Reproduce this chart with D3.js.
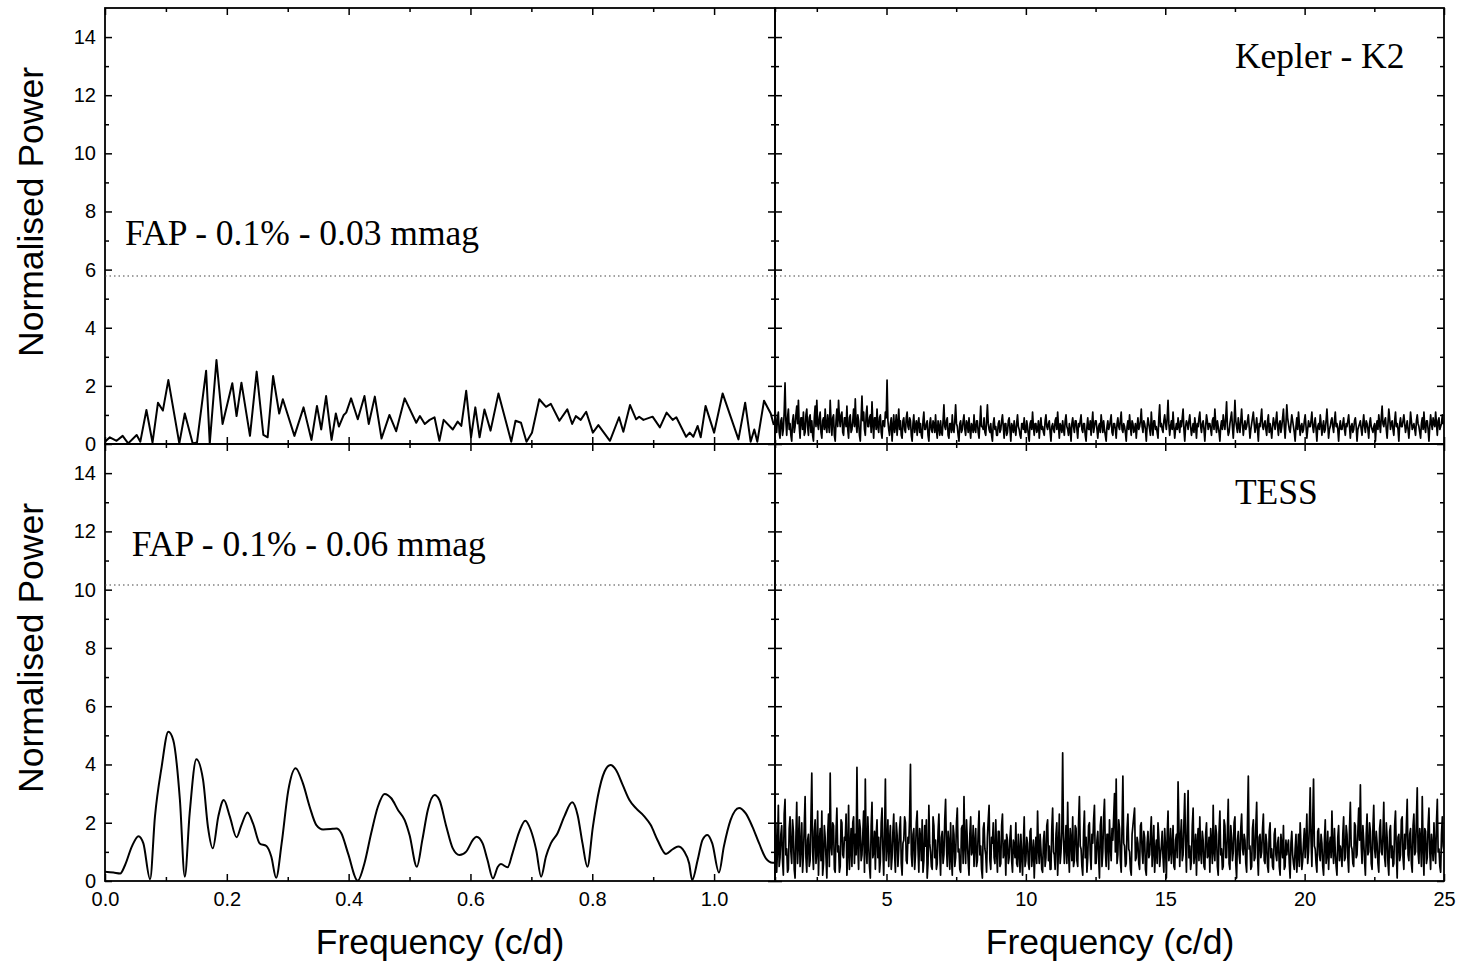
<!DOCTYPE html>
<html><head><meta charset="utf-8">
<script src="https://cdn.jsdelivr.net/npm/d3@7"></script>
<style>html,body{margin:0;padding:0;background:#fff;} svg{display:block;}</style>
</head><body>
<svg id="chart" width="1472" height="961"></svg>
<script>
// ---------- DATA ----------
// Kepler K2, low-frequency periodogram (0 - 1.1 c/d)
const keplerLowFreq = [0.000,0.008,0.019,0.029,0.038,0.052,0.058,0.068,0.078,0.087,0.095,0.104,0.122,0.131,0.144,0.151,0.166,0.172,0.183,0.193,0.209,0.216,0.224,0.238,0.249,0.260,0.267,0.276,0.286,0.292,0.311,0.326,0.339,0.348,0.355,0.363,0.372,0.379,0.384,0.392,0.396,0.404,0.415,0.426,0.433,0.443,0.454,0.467,0.478,0.492,0.511,0.517,0.525,0.533,0.541,0.549,0.556,0.571,0.579,0.585,0.593,0.601,0.608,0.615,0.623,0.633,0.646,0.667,0.674,0.683,0.692,0.701,0.713,0.724,0.732,0.746,0.759,0.767,0.773,0.781,0.790,0.801,0.810,0.829,0.844,0.851,0.862,0.872,0.877,0.884,0.899,0.911,0.922,0.932,0.938,0.954,0.960,0.966,0.973,0.978,0.986,1.000,1.014,1.040,1.051,1.060,1.066,1.071,1.082,1.093,1.098];
const keplerLowPower = [0.08,0.23,0.11,0.28,0.02,0.31,0.08,1.17,0.05,1.42,1.15,2.20,0.02,1.05,0.02,0.05,2.52,0.02,2.89,0.69,2.09,0.96,2.11,0.28,2.49,0.31,0.23,2.34,1.05,1.54,0.28,1.26,0.14,1.31,0.50,1.65,0.14,1.05,0.60,1.00,1.08,1.57,0.85,1.65,0.69,1.63,0.19,1.00,0.44,1.57,0.73,0.96,0.69,0.83,0.92,0.11,0.83,0.50,0.77,0.62,1.83,0.23,1.26,0.23,1.19,0.46,1.74,0.08,0.80,0.73,0.08,0.39,1.54,1.28,1.38,0.80,1.19,0.69,0.96,0.83,1.11,0.39,0.65,0.11,0.92,0.42,1.34,0.85,0.94,0.83,0.94,0.57,1.08,0.83,0.92,0.25,0.39,0.25,0.62,0.23,1.31,0.39,1.74,0.16,1.42,0.08,0.50,0.08,1.49,1.05,0.65];

// Kepler K2, high-frequency periodogram (1 - 25 c/d): grid start / step,
// power at the grid points and power half-way between them
const keplerHighStart = 1.0, keplerHighStep = 0.06;
const keplerHighPower = [
1.3,0.4,1.1,0.2,0.9,0.5,2.1,0.3,1.2,0.7,0.1,1.0,0.6,1.3,1.5,0.2,0.9,1.1,0.4,1.2,
0.3,1.0,0.8,0.1,1.3,1.5,0.5,1.1,0.2,0.9,1.2,0.4,0.7,1.5,0.3,1.0,0.1,1.2,1.5,0.6,
1.1,0.3,0.9,1.3,0.2,1.0,0.5,1.2,1.55,0.4,0.8,0.1,1.65,1.1,0.3,1.3,0.6,1.0,1.45,0.2,
0.9,1.2,0.4,1.0,0.2,0.8,1.1,2.2,0.5,0.7,0.1,1.0,0.6,0.3,1.2,0.8,0.2,0.9,0.4,1.1,
0.5,0.8,0.1,1.0,0.6,0.3,0.9,0.7,0.2,1.1,0.5,0.8,0.1,0.9,0.4,0.7,1.0,0.2,0.6,0.8,
0.3,1.35,0.5,0.9,0.2,0.7,1.0,0.4,1.35,0.6,0.1,0.8,0.5,1.0,0.3,0.7,0.9,0.2,0.6,1.0,
0.4,0.8,0.2,1.3,0.6,0.9,0.3,1.35,0.5,0.7,0.1,0.9,0.6,0.3,0.8,0.5,1.0,0.2,0.7,0.4,
0.9,0.1,0.6,0.8,0.3,1.0,0.5,0.2,0.7,0.9,0.4,0.6,0.1,0.8,1.1,0.3,0.7,0.5,0.2,0.9,
0.6,0.3,1.0,0.5,0.8,0.1,0.7,0.4,0.9,1.1,0.2,0.6,0.8,0.3,1.0,0.5,0.7,0.1,0.9,0.4,
0.8,0.2,0.6,1.0,0.4,0.7,0.1,0.9,0.5,0.3,1.1,0.6,0.8,0.2,0.7,1.0,0.4,0.5,0.1,0.8,
0.6,1.0,0.3,0.7,0.2,0.9,0.5,1.1,0.4,0.6,0.1,0.8,1.0,0.3,0.7,0.5,0.2,0.9,0.6,1.2,
0.4,0.7,0.1,0.9,0.5,1.1,0.3,0.8,0.6,0.2,1.35,0.7,0.4,1.0,0.5,1.5,0.3,0.8,1.1,0.2,
0.7,0.9,0.4,0.6,1.2,0.1,0.8,0.5,1.0,0.3,0.7,0.9,0.2,0.6,1.1,0.4,0.8,0.1,1.0,0.5,
0.7,0.3,0.9,1.2,0.4,0.6,0.1,0.8,1.0,0.5,1.45,0.3,0.7,1.1,0.2,1.5,0.6,0.9,0.4,1.2,
0.3,0.8,0.6,1.0,0.2,0.7,1.1,0.4,0.9,0.1,0.6,1.2,0.5,0.8,0.3,1.0,0.7,0.2,0.9,0.5,
1.1,0.3,0.8,0.6,1.2,0.2,1.35,0.7,0.4,1.0,0.6,0.1,0.9,1.1,0.3,0.7,0.5,1.0,0.2,0.8,
0.6,1.1,0.4,0.9,0.1,0.7,1.0,0.3,0.8,0.5,1.2,0.2,0.6,0.9,0.4,1.1,0.7,0.1,0.8,0.5,
0.9,0.3,0.6,1.0,0.2,0.7,0.5,0.9,0.1,0.6,0.8,0.3,1.0,0.4,0.7,0.2,0.9,0.5,0.6,0.1,
0.8,1.0,0.4,1.3,0.6,0.9,0.2,1.2,0.5,0.8,0.3,1.1,0.7,0.1,0.9,0.6,1.0,0.4,0.8,0.2,
1.1,0.5,0.7,0.3,1.0,0.6,0.2,0.9,1.1,0.4,0.8,0.1,1.0,0.5,0.7,1.1,0.3,0.9,0.6,1.0,
0.8];
const keplerHighPowerMid = [
0.7,0.9,0.4,0.8,0.3,1.1,0.8,0.9,0.5,0.3,0.8,0.4,1.0,0.7,0.6,0.9,0.5,0.3,1.0,0.6,
0.9,0.4,0.3,0.9,0.6,0.7,0.9,0.4,0.8,0.5,0.6,1.0,0.4,0.8,0.9,0.3,0.8,0.6,0.9,1.0,
0.4,0.9,0.6,0.5,0.9,0.4,0.8,0.6,0.7,1.0,0.3,0.9,0.8,0.5,1.0,0.6,0.9,0.4,0.7,0.9,
0.5,0.6,0.9,0.4,0.8,0.6,0.9,0.8,0.3,0.9,0.6,0.4,1.0,0.7,0.5,0.3,0.8,0.5,0.9,0.6,
0.9,0.3,0.7,0.4,0.8,0.7,0.4,0.3,0.8,0.5,0.7,0.3,0.7,0.5,0.8,0.4,0.5,0.8,0.3,0.4,
0.8,0.6,0.8,0.3,0.7,0.4,0.5,0.8,0.7,0.3,0.7,0.4,0.8,0.5,0.8,0.4,0.5,0.7,0.4,0.5,
0.8,0.4,0.7,0.6,0.5,0.4,0.8,0.7,0.4,0.3,0.7,0.5,0.3,0.7,0.4,0.8,0.6,0.7,0.3,0.8,
0.5,0.7,0.4,0.5,0.7,0.6,0.3,0.7,0.5,0.4,0.8,0.3,0.7,0.5,0.6,0.7,0.4,0.8,0.6,0.5,
0.4,0.8,0.6,0.7,0.4,0.6,0.5,0.8,0.5,0.6,0.7,0.4,0.5,0.8,0.6,0.3,0.5,0.7,0.6,0.8,
0.5,0.7,0.8,0.5,0.7,0.3,0.6,0.5,0.8,0.7,0.4,0.8,0.5,0.6,0.4,0.7,0.8,0.3,0.6,0.5,
0.8,0.4,0.7,0.5,0.7,0.6,0.8,0.5,0.7,0.4,0.6,0.5,0.6,0.8,0.4,0.7,0.6,0.5,0.8,0.6,
0.8,0.5,0.6,0.7,0.3,0.6,0.8,0.5,0.4,0.9,0.6,0.5,0.8,0.7,0.9,0.7,0.6,0.5,0.6,0.5,
0.5,0.6,0.8,0.9,0.5,0.6,0.7,0.8,0.6,0.5,0.4,0.6,0.7,0.9,0.6,0.7,0.5,0.6,0.8,0.7,
0.5,0.8,0.5,0.7,0.8,0.4,0.6,0.5,0.7,0.9,0.6,0.4,0.9,0.6,0.7,0.8,0.4,0.6,0.8,0.7,
0.6,0.5,0.8,0.6,0.5,0.9,0.7,0.6,0.5,0.7,0.9,0.6,0.7,0.5,0.8,0.4,0.5,0.6,0.7,0.8,
0.6,0.7,0.4,0.9,0.6,0.7,0.9,0.5,0.7,0.8,0.4,0.6,0.5,0.7,0.6,0.4,0.8,0.6,0.5,0.6,
0.8,0.6,0.7,0.5,0.6,0.5,0.7,0.6,0.4,0.8,0.7,0.5,0.8,0.6,0.8,0.6,0.5,0.6,0.5,0.7,
0.5,0.7,0.8,0.6,0.6,0.4,0.8,0.6,0.5,0.7,0.5,0.7,0.6,0.8,0.5,0.7,0.6,0.4,0.7,0.6,
0.5,0.7,0.9,0.7,0.8,0.5,0.7,0.9,0.7,0.5,0.8,0.6,0.5,0.7,0.6,0.8,0.7,0.6,0.5,0.6,
0.8,0.6,0.5,0.8,0.7,0.4,0.7,0.5,0.6,0.8,0.5,0.6,0.7,0.9,0.6,0.7,0.8,0.5,0.7,0.7];

// TESS, low-frequency periodogram (0 - 1.1 c/d)
const tessLowFreq = [0.000,0.014,0.025,0.033,0.044,0.055,0.063,0.074,0.082,0.093,0.104,0.112,0.123,0.131,0.139,0.150,0.161,0.169,0.177,0.186,0.195,0.205,0.216,0.224,0.234,0.243,0.254,0.265,0.273,0.281,0.290,0.301,0.313,0.325,0.336,0.347,0.358,0.374,0.380,0.388,0.399,0.415,0.426,0.437,0.448,0.459,0.470,0.481,0.492,0.500,0.512,0.521,0.530,0.541,0.549,0.560,0.571,0.582,0.593,0.604,0.610,0.620,0.628,0.637,0.645,0.650,0.661,0.669,0.680,0.690,0.699,0.708,0.716,0.724,0.732,0.743,0.754,0.767,0.776,0.784,0.792,0.801,0.809,0.820,0.830,0.839,0.850,0.861,0.872,0.885,0.896,0.907,0.921,0.932,0.941,0.951,0.959,0.964,0.973,0.981,0.989,0.997,1.008,1.016,1.027,1.041,1.052,1.063,1.074,1.085,1.096,1.100];
const tessLowPower = [0.32,0.29,0.26,0.55,1.18,1.54,1.29,0.06,2.21,3.92,5.12,4.84,2.78,0.15,2.32,4.18,3.47,1.86,1.12,2.21,2.78,2.21,1.50,1.92,2.35,1.98,1.29,1.20,0.84,0.11,1.29,3.12,3.87,3.35,2.55,1.92,1.77,1.79,1.80,1.64,0.95,0.01,0.61,1.64,2.55,2.99,2.84,2.44,2.09,1.58,0.49,1.41,2.44,2.95,2.78,1.90,1.12,0.89,1.01,1.41,1.52,1.29,0.72,0.09,0.49,0.58,0.47,0.95,1.69,2.07,1.75,1.06,0.15,0.84,1.29,1.64,2.21,2.70,2.26,1.29,0.49,1.86,2.89,3.75,3.98,3.81,3.29,2.78,2.49,2.23,1.92,1.41,0.93,1.09,1.18,1.01,0.61,0.03,0.72,1.41,1.58,1.29,0.29,1.18,2.09,2.51,2.32,1.86,1.29,0.78,0.63,0.63];

// TESS, high-frequency periodogram (1 - 25 c/d): grid start / step,
// power at the grid points and power half-way between them
const tessHighStart = 1.0, tessHighStep = 0.06;
const tessHighPower = [
1.4,0.3,2.6,0.8,1.9,0.2,2.8,1.1,0.4,2.2,0.6,1.7,0.1,2.7,1.3,0.5,2.0,0.9,2.9,0.3,
1.6,0.7,3.7,0.4,2.1,1.0,0.2,1.8,2.4,0.6,1.5,0.1,2.3,3.7,0.9,1.9,0.3,2.5,1.2,0.5,
2.0,0.8,1.4,0.2,2.6,1.1,0.5,2.2,1.6,3.9,0.4,1.8,0.9,2.4,3.5,0.6,1.3,0.1,2.7,1.0,
0.4,2.1,1.5,0.7,2.5,0.2,3.5,1.2,0.5,1.9,0.8,2.3,0.3,1.6,1.1,2.2,0.2,1.4,2.0,0.6,
1.3,4.0,0.5,1.8,0.9,2.4,0.3,1.5,2.1,0.7,1.2,0.1,2.6,1.0,0.4,1.9,1.4,0.6,2.3,0.2,
1.7,0.9,2.8,0.5,1.3,2.0,0.2,1.6,0.8,2.5,1.1,0.3,1.9,2.9,0.6,1.4,0.2,2.2,1.0,0.5,
1.8,0.7,2.4,1.2,0.1,2.0,0.9,1.5,2.6,0.4,1.3,0.8,2.1,0.3,1.7,0.6,2.3,1.0,0.2,1.4,
0.8,1.9,0.3,1.2,2.0,0.5,1.0,1.6,0.2,2.2,0.7,1.3,0.4,1.8,0.9,0.1,1.5,2.4,0.6,1.1,
0.3,1.7,0.8,2.1,1.2,0.4,2.5,0.9,1.6,0.2,2.3,1.0,4.4,0.6,1.9,2.7,0.3,1.4,2.2,0.7,
1.8,0.5,2.9,1.1,0.2,2.4,1.5,0.8,2.0,0.4,1.3,2.6,0.6,1.7,0.1,2.2,1.0,2.8,0.5,1.6,
2.1,0.7,1.4,3.0,3.5,0.9,1.8,0.3,3.6,1.2,0.6,2.3,1.0,0.2,1.9,2.5,0.8,1.3,0.4,2.0,
0.6,1.5,0.2,1.7,0.9,2.2,1.1,0.3,1.4,2.0,0.5,1.2,0.8,1.8,0.1,2.4,1.0,0.6,1.9,0.4,
1.6,3.4,0.5,2.1,0.9,3.0,0.3,3.1,1.2,0.7,2.5,1.0,0.2,1.8,2.2,0.6,1.4,0.4,2.0,0.9,
0.3,1.3,2.6,0.7,1.6,0.2,2.4,1.1,0.5,1.9,0.8,2.8,0.4,1.5,1.0,2.2,0.1,1.7,0.6,2.3,
0.9,1.4,0.3,3.6,1.2,0.5,2.1,0.8,2.7,0.2,1.6,1.0,2.3,0.6,1.3,0.3,2.0,1.1,0.4,1.8,
0.7,1.5,0.2,1.2,1.9,0.5,0.9,1.4,0.1,1.7,0.6,1.1,0.3,1.6,2.0,0.4,1.3,0.8,2.3,1.0,
3.2,0.5,3.5,1.1,0.3,1.8,0.7,1.3,0.2,2.1,0.9,0.4,1.5,2.4,0.6,1.0,0.2,1.9,1.2,0.5,
2.2,0.8,1.6,0.3,2.7,1.1,0.5,1.9,0.9,2.5,3.3,0.6,1.4,0.2,2.3,1.0,1.7,0.4,2.6,0.8,
1.3,0.3,2.1,0.9,2.7,0.5,1.5,0.2,1.9,1.2,0.6,2.4,0.1,1.6,0.9,2.2,0.4,1.1,2.8,0.7,
1.8,0.3,2.3,1.0,3.2,0.6,1.4,2.9,0.2,1.7,0.8,2.5,0.4,1.2,2.0,0.6,2.8,1.1,0.3,2.2,
1.0];
const tessHighPowerMid = [
2.0,1.1,0.5,1.6,0.7,2.3,0.9,0.3,1.8,1.0,2.1,0.4,1.5,0.6,2.2,1.2,0.3,1.9,0.8,1.4,
0.5,2.2,1.0,1.7,0.6,2.4,1.3,0.7,0.2,1.9,0.8,1.6,0.5,1.2,2.0,0.4,1.7,1.0,0.3,2.1,
0.9,1.5,2.3,1.0,0.4,1.8,2.0,0.6,0.9,1.2,2.1,0.7,1.6,0.3,1.1,2.2,0.5,1.9,0.8,1.7,
1.6,0.8,0.3,2.0,1.1,1.6,0.7,2.1,1.4,0.4,1.7,0.9,2.0,0.5,1.8,0.6,1.3,2.2,0.7,1.5,
2.2,0.9,1.6,0.4,2.0,1.1,1.8,0.7,0.3,1.9,2.1,0.6,1.3,0.5,2.2,0.8,0.4,1.7,1.0,1.5,
0.6,2.1,1.2,1.7,0.4,0.8,1.9,0.5,2.0,1.0,0.4,1.8,0.6,1.2,2.1,0.7,1.6,0.9,1.9,1.3,
0.5,1.7,0.9,0.4,1.8,1.1,0.3,2.1,0.7,1.5,2.0,0.6,1.0,1.7,0.5,1.9,0.8,1.4,1.6,0.6,
1.5,0.7,1.4,0.8,0.6,1.6,0.3,0.9,1.3,0.5,1.5,0.6,1.7,0.5,1.4,1.0,0.6,1.1,1.6,0.4,
1.4,0.5,1.9,0.7,0.4,1.8,1.0,0.4,2.0,1.1,0.6,1.7,1.5,1.2,0.6,1.0,1.8,0.7,0.5,1.9,
0.7,2.0,1.2,0.5,1.7,0.8,0.3,1.9,0.9,1.6,2.1,0.6,1.4,0.8,1.9,0.5,2.2,1.1,1.6,0.4,
1.2,1.8,2.2,1.0,0.6,2.1,0.7,1.9,1.3,0.5,1.8,1.1,0.4,1.6,2.2,0.7,1.5,0.6,1.9,1.0,
1.7,0.4,1.3,0.8,1.6,0.5,1.9,1.0,0.6,1.5,0.9,1.7,0.3,1.2,1.6,0.7,1.8,1.2,0.5,1.4,
0.8,1.9,1.5,0.7,2.0,1.2,1.8,0.8,0.4,1.9,0.6,1.6,1.3,0.7,1.0,1.7,0.5,1.6,0.8,1.5,
1.8,0.6,1.0,1.9,0.5,1.7,0.9,0.4,2.1,0.8,1.7,0.6,1.9,0.7,2.0,0.6,1.4,0.9,1.8,1.1,
1.6,0.6,2.0,1.1,0.4,1.8,0.7,1.9,0.9,1.5,0.8,1.8,0.7,1.6,0.5,1.7,0.8,0.5,1.6,0.9,
1.3,0.5,1.6,0.8,0.4,1.4,1.2,0.6,1.3,0.9,0.4,1.6,0.9,0.5,1.2,0.7,1.8,1.4,0.6,1.9,
1.4,2.0,1.2,0.6,1.7,0.9,1.6,0.5,1.4,0.6,1.7,1.2,0.8,1.1,1.8,0.5,1.5,0.7,1.0,1.6,
0.7,1.9,0.8,1.8,1.2,0.6,2.0,0.8,1.7,1.4,1.2,1.9,0.7,1.6,0.9,2.0,0.6,1.8,1.1,1.7,
0.6,1.8,1.0,1.6,0.8,2.0,0.6,1.7,0.8,0.5,1.9,1.0,1.5,0.7,2.1,0.8,1.6,1.9,0.9,1.6,
0.6,1.9,0.9,2.1,1.0,1.8,0.5,1.2,1.8,0.6,1.9,1.0,1.6,0.7,1.1,2.0,1.0,0.5,1.6,1.2];

// False-alarm-probability (0.1%) levels
const fapKepler = 5.78;
const fapTess = 10.16;

// Tick values
const lowMajorTicks = [0, 0.2, 0.4, 0.6, 0.8, 1.0];
const lowMinorTicks = [0.1, 0.3, 0.5, 0.7, 0.9, 1.1];
const highMajorTicks = [5, 10, 15, 20, 25];
const highMinorTicks = [2.5, 7.5, 12.5, 17.5, 22.5];
const yMajorTicks = [0, 2, 4, 6, 8, 10, 12, 14];
const yMinorTicks = [1, 3, 5, 7, 9, 11, 13];

// Texts
const yTitle = "Normalised Power";
const xTitle = "Frequency (c/d)";
const fapLabelKepler = "FAP - 0.1% - 0.03 mmag";
const fapLabelTess = "FAP - 0.1% - 0.06 mmag";
const missionKepler = "Kepler - K2";
const missionTess = "TESS";

// ---------- CHART ----------
const svg = d3.select("#chart");
const SANS = "'Liberation Sans', Arial, Helvetica, sans-serif";
const SERIF = "'Liberation Serif', 'Times New Roman', Times, serif";

const xLow = d3.scaleLinear().domain([0, 1.1]).range([105, 775]);
const xHigh = d3.scaleLinear().domain([1, 25]).range([775, 1444]);
const yTop = d3.scaleLinear().domain([0, 15]).range([444, 8]);
const yBot = d3.scaleLinear().domain([0, 15]).range([881, 444]);

// combine grid-point and half-step values into one series
function gridSeries(start, step, power, mid) {
  const out = [];
  power.forEach((v, i) => {
    out.push([start + i * step, v]);
    if (i < mid.length) out.push([start + (i + 0.5) * step, mid[i]]);
  });
  return out;
}
const keplerHigh = gridSeries(keplerHighStart, keplerHighStep, keplerHighPower, keplerHighPowerMid);
const tessHigh = gridSeries(tessHighStart, tessHighStep, tessHighPower, tessHighPowerMid);
const keplerLow = keplerLowFreq.map((f, i) => [f, keplerLowPower[i]]);
const tessLow = tessLowFreq.map((f, i) => [f, tessLowPower[i]]);

const panels = [
  {id: "p1", x: xLow, y: yTop, data: keplerLow, sw: 2.0, curve: d3.curveLinear,
   major: lowMajorTicks, minor: lowMinorTicks, fmt: d3.format(".1f"), left: true, bottom: false},
  {id: "p2", x: xHigh, y: yTop, data: keplerHigh, sw: 1.7, curve: d3.curveLinear,
   major: highMajorTicks, minor: highMinorTicks, fmt: d3.format("d"), left: false, bottom: false},
  {id: "p3", x: xLow, y: yBot, data: tessLow, sw: 2.0, curve: d3.curveMonotoneX,
   major: lowMajorTicks, minor: lowMinorTicks, fmt: d3.format(".1f"), left: true, bottom: true},
  {id: "p4", x: xHigh, y: yBot, data: tessHigh, sw: 1.7, curve: d3.curveLinear,
   major: highMajorTicks, minor: highMinorTicks, fmt: d3.format("d"), left: false, bottom: true}
];

const defs = svg.append("defs");

function styleAxis(g) {
  g.select(".domain").remove();
  g.selectAll(".tick line").attr("stroke", "#000").attr("stroke-width", 1.5);
  g.selectAll(".tick text").attr("fill", "#000");
  g.attr("font-family", SANS).attr("font-size", 20);
}

panels.forEach(P => {
  const [x0, x1] = P.x.range();
  const [yb, yt] = P.y.range();
  defs.append("clipPath").attr("id", "clip-" + P.id)
    .append("rect").attr("x", x0).attr("y", yt).attr("width", x1 - x0).attr("height", yb - yt);

  const g = svg.append("g");

  g.append("path")
    .attr("clip-path", `url(#clip-${P.id})`)
    .attr("d", d3.line().x(d => P.x(d[0])).y(d => P.y(d[1])).curve(P.curve)(P.data))
    .attr("fill", "none").attr("stroke", "#000").attr("stroke-width", P.sw)
    .attr("stroke-linejoin", "round");

  const MAJ = 7, MIN = 4;
  g.append("g").attr("transform", `translate(0,${yb})`)
    .call(d3.axisBottom(P.x).tickValues(P.major).tickSize(-MAJ).tickPadding(11)
      .tickFormat(P.bottom ? P.fmt : () => ""))
    .call(styleAxis);
  g.append("g").attr("transform", `translate(0,${yb})`)
    .call(d3.axisBottom(P.x).tickValues(P.minor).tickSize(-MIN).tickFormat(() => ""))
    .call(styleAxis);
  g.append("g").attr("transform", `translate(0,${yt})`)
    .call(d3.axisTop(P.x).tickValues(P.major).tickSize(-MAJ).tickFormat(() => ""))
    .call(styleAxis);
  g.append("g").attr("transform", `translate(0,${yt})`)
    .call(d3.axisTop(P.x).tickValues(P.minor).tickSize(-MIN).tickFormat(() => ""))
    .call(styleAxis);
  g.append("g").attr("transform", `translate(${x0},0)`)
    .call(d3.axisLeft(P.y).tickValues(yMajorTicks).tickSize(-MAJ).tickPadding(9)
      .tickFormat(P.left ? d3.format("d") : () => ""))
    .call(styleAxis);
  g.append("g").attr("transform", `translate(${x0},0)`)
    .call(d3.axisLeft(P.y).tickValues(yMinorTicks).tickSize(-MIN).tickFormat(() => ""))
    .call(styleAxis);
  g.append("g").attr("transform", `translate(${x1},0)`)
    .call(d3.axisRight(P.y).tickValues(yMajorTicks).tickSize(-MAJ).tickFormat(() => ""))
    .call(styleAxis);
  g.append("g").attr("transform", `translate(${x1},0)`)
    .call(d3.axisRight(P.y).tickValues(yMinorTicks).tickSize(-MIN).tickFormat(() => ""))
    .call(styleAxis);

  g.append("rect").attr("x", x0).attr("y", yt).attr("width", x1 - x0).attr("height", yb - yt)
    .attr("fill", "none").attr("stroke", "#000").attr("stroke-width", 1.8);
});

// FAP dotted lines across both panels of each row
[[yTop, fapKepler], [yBot, fapTess]].forEach(([y, v]) => {
  svg.append("line")
    .attr("x1", xLow(0)).attr("x2", xHigh(25))
    .attr("y1", y(v)).attr("y2", y(v))
    .attr("stroke", "#444").attr("stroke-width", 1.2).attr("stroke-dasharray", "1.5,3");
});

// Annotations
const ANN = 35.5;
svg.append("text").attr("x", xLow(0.033)).attr("y", yTop(6.85))
  .attr("font-family", SERIF).attr("font-size", ANN).attr("fill", "#000").text(fapLabelKepler);
svg.append("text").attr("x", xLow(0.044)).attr("y", yBot(11.15))
  .attr("font-family", SERIF).attr("font-size", ANN).attr("fill", "#000").text(fapLabelTess);
svg.append("text").attr("x", xHigh(17.5)).attr("y", yTop(12.95))
  .attr("font-family", SERIF).attr("font-size", ANN).attr("fill", "#000").text(missionKepler);
svg.append("text").attr("x", xHigh(17.5)).attr("y", yBot(12.95))
  .attr("font-family", SERIF).attr("font-size", ANN).attr("fill", "#000").text(missionTess);

// Axis titles
[212, 648].forEach(cy => {
  svg.append("text").attr("transform", `translate(43,${cy}) rotate(-90)`)
    .attr("text-anchor", "middle").attr("font-family", SANS).attr("font-size", 35.5)
    .attr("fill", "#000").text(yTitle);
});
[440, 1110].forEach(cx => {
  svg.append("text").attr("x", cx).attr("y", 954)
    .attr("text-anchor", "middle").attr("font-family", SANS).attr("font-size", 35.5)
    .attr("fill", "#000").text(xTitle);
});
</script>
</body></html>
